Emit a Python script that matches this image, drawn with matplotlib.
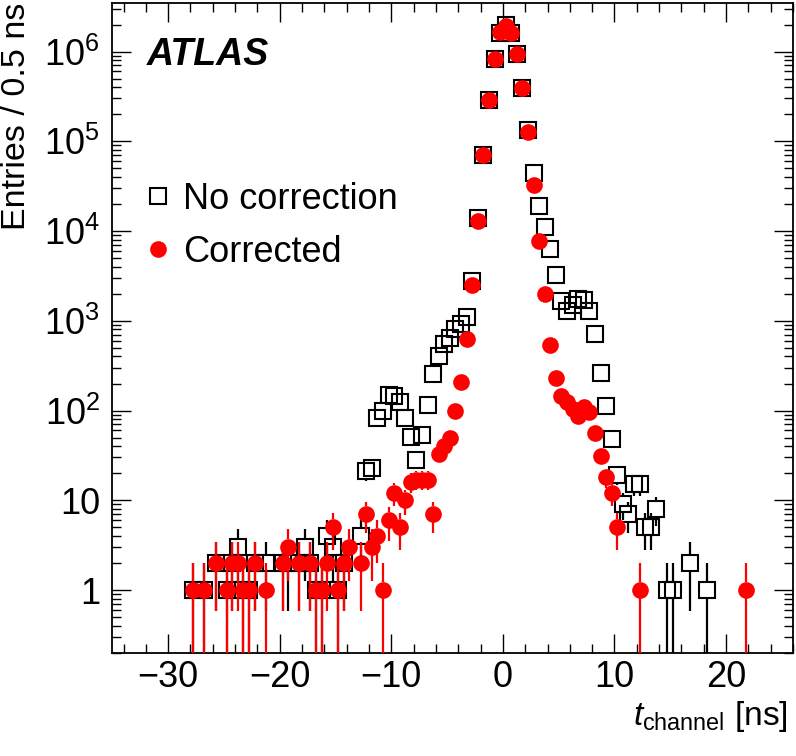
import numpy as np
import matplotlib
matplotlib.use("Agg")
import matplotlib.pyplot as plt
from matplotlib.lines import Line2D
from matplotlib.ticker import MultipleLocator, LogLocator, NullFormatter

# ---- data ----
t_nocorr = [-27.75, -26.75, -25.75, -24.75, -24.25, -23.75, -23.25, -22.75, -22.25, -21.25,
            -19.75, -19.25, -18.25, -17.75, -17.25, -16.75, -16.25, -15.75, -15.25, -14.75,
            -14.25, -12.75, -12.25, -11.75, -11.25, -10.75, -10.25, -9.75, -9.25, -8.75,
            -8.25, -7.75, -7.25, -6.75, -6.25, -5.75, -5.25, -4.75, -4.25, -3.75,
            -3.25, -2.75, -2.25, -1.75, -1.25, -0.75, -0.25, 0.25, 0.75, 1.25,
            1.75, 2.25, 2.75, 3.25, 3.75, 4.25, 4.75, 5.25, 5.75, 6.25,
            6.75, 7.25, 7.75, 8.25, 8.75, 9.25, 9.75, 10.25, 10.75, 11.25,
            11.75, 12.25, 12.75, 13.25, 13.75, 14.75, 15.25, 16.75, 18.25]
n_nocorr = [1, 1, 2, 1, 2, 3, 1, 1, 2, 2,
            2, 2, 2, 3, 2, 1, 1, 4, 3, 1,
            2, 4, 21, 23, 82, 100, 148, 145, 125, 82,
            51, 28, 53, 115, 257, 405, 550, 640, 805, 920,
            1100, 2800, 13800, 70000, 290000, 830000, 1600000, 2000000, 1630000, 950000,
            390000, 133000, 44000, 19000, 11000, 6300, 3200, 1670, 1280, 1480,
            1760, 1700, 1290, 710, 260, 113, 48, 19, 9, 7,
            15, 15, 5, 5, 8, 1, 1, 2, 1]

t_corr = [-27.75, -26.75, -25.75, -24.75, -24.25, -23.75, -23.25, -22.75, -22.25, -21.25,
          -19.75, -19.25, -18.25, -17.25, -16.75, -16.25, -15.75, -15.25, -14.75, -14.25,
          -13.75, -12.75, -12.25, -11.75, -11.25, -10.75, -10.25, -9.75, -9.25, -8.75,
          -8.25, -7.75, -7.25, -6.75, -6.25, -5.75, -5.25, -4.75, -4.25, -3.75,
          -3.25, -2.75, -2.25, -1.75, -1.25, -0.75, -0.25, 0.25, 0.75, 1.25,
          1.75, 2.25, 2.75, 3.25, 3.75, 4.25, 4.75, 5.25, 5.75, 6.25,
          6.75, 7.25, 7.75, 8.25, 8.75, 9.25, 9.75, 10.25, 12.25, 21.75]
n_corr = [1, 1, 2, 1, 2, 2, 1, 1, 2, 1,
          2, 3, 2, 2, 1, 1, 2, 5, 1, 2,
          3, 2, 7, 3, 4, 1, 6, 12, 5, 10,
          16, 17, 17, 17, 7, 33, 40, 50, 100, 210,
          620, 2500, 13000, 70000, 290000, 830000, 1650000, 1950000, 1600000, 950000,
          390000, 127000, 33000, 7800, 1970, 540, 230, 145, 125, 105,
          86, 110, 96, 56, 31, 18, 12, 5, 1, 1]

label_nocorr = "No correction"
label_corr = "Corrected"
ytick_vals = [1, 10, 1e2, 1e3, 1e4, 1e5, 1e6]
ytick_labels = ["1", "10", r"$10^{2}$", r"$10^{3}$", r"$10^{4}$", r"$10^{5}$", r"$10^{6}$"]
xtick_vals = [-30, -20, -10, 0, 10, 20]

plt.rcParams["font.family"] = ["Liberation Sans", "DejaVu Sans"]
plt.rcParams["mathtext.fontset"] = "custom"
plt.rcParams["mathtext.rm"] = "Liberation Sans"
plt.rcParams["mathtext.it"] = "Liberation Sans:italic"
plt.rcParams["mathtext.bf"] = "Liberation Sans:bold"

FS = 26
MS = 11.5

fig = plt.figure(figsize=(7.96, 7.56), dpi=100)
ax = fig.add_axes([0.1412, 0.1366, 0.855, 0.8598])
ax.set_yscale("log")
ax.set_xlim(-35, 26)
ax.set_ylim(0.2, 3.5e6)

# marker half-height expressed as a multiplicative factor on the log axis
bbox = ax.get_window_extent()
decade_px = bbox.height / np.log10(3.5e6 / 0.2)
half_px = MS * fig.dpi / 72.0 / 2.0
gap = 10 ** (half_px / decade_px)


def draw_errors(t, n, color, z):
    t = np.asarray(t, float)
    n = np.asarray(n, float)
    e = np.sqrt(n)
    hi = n + e
    lo = np.maximum(n - e, 1e-5)
    up_m = hi > n * gap
    ax.vlines(t[up_m], (n * gap)[up_m], hi[up_m], colors=color, lw=1.6, zorder=z)
    dn_m = lo < n / gap
    ax.vlines(t[dn_m], lo[dn_m], (n / gap)[dn_m], colors=color, lw=1.6, zorder=z)


draw_errors(t_nocorr, n_nocorr, "black", 2)
ax.plot(t_nocorr, n_nocorr, ls="none", marker="s", ms=MS, mfc="none", mec="black",
        mew=1.5, zorder=3)
draw_errors(t_corr, n_corr, "red", 4)
ax.plot(t_corr, n_corr, ls="none", marker="o", ms=12, mfc="red", mec="red", mew=0,
        zorder=5)

ax.set_xticks(xtick_vals)
ax.xaxis.set_minor_locator(MultipleLocator(2))
ax.set_yticks(ytick_vals)
ax.set_yticklabels(ytick_labels)
ax.yaxis.set_minor_locator(LogLocator(base=10, subs=np.arange(2, 10), numticks=20))
ax.yaxis.set_minor_formatter(NullFormatter())

ax.tick_params(which="both", direction="in", top=True, right=True, labelsize=FS)
ax.tick_params(which="major", length=13.5, width=1.0)
ax.tick_params(axis="x", which="major", pad=5)
ax.tick_params(axis="y", which="major", pad=9)
ax.tick_params(which="minor", length=6.5, width=1.0)
for s in ax.spines.values():
    s.set_linewidth(1.3)

fig.text(0.021, 0.996, "Entries / 0.5 ns", rotation=90, ha="center", va="top",
         fontsize=24.5)
fig.text(0.990, 0.041, r"$t_{\mathrm{channel}}$ [ns]", ha="right", va="baseline",
         fontsize=24)

fig.text(0.1843, 0.914, "ATLAS", fontsize=27, fontweight="bold", fontstyle="italic",
         ha="left", va="baseline")

handles = [
    Line2D([], [], ls="none", marker="s", ms=MS, mfc="none", mec="black", mew=1.5),
    Line2D([], [], ls="none", marker="o", ms=12, mfc="red", mec="red", mew=0),
]
fig.legend(handles, [label_nocorr, label_corr], loc="center left",
           bbox_to_anchor=(0.1827, 0.701), frameon=False, fontsize=FS,
           handlelength=0.7, handletextpad=0.34, labelspacing=0.5,
           borderpad=0, borderaxespad=0)

fig.savefig("out.png", dpi=100)
